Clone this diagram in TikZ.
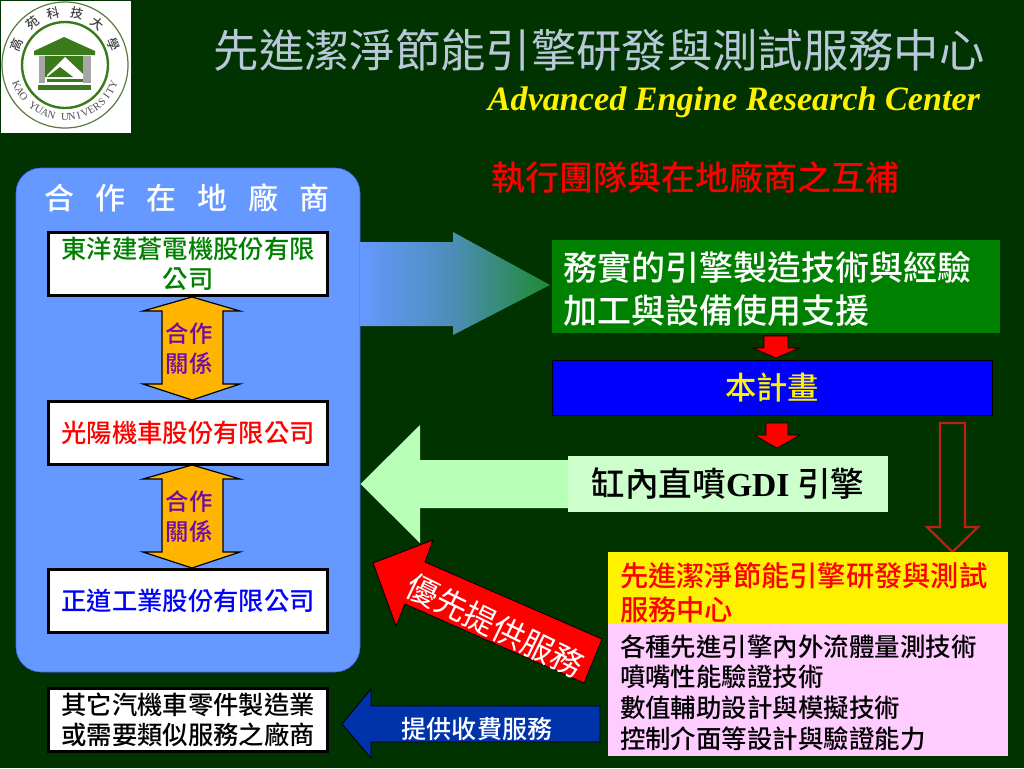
\documentclass[tikz,border=0pt]{standalone}
\usepackage{fontspec}
\setmainfont{Liberation Serif}
\newfontfamily\cjk[UprightFont={* Medium},BoldFont={* Medium}]{Noto Sans CJK TC}
\newfontfamily\cjkthin{Noto Sans CJK TC}
\definecolor{bg}{HTML}{003300}
\definecolor{panel}{HTML}{6699FF}
\definecolor{logog}{HTML}{3A7A1A}
\definecolor{silver}{HTML}{B8C8D8}
\newcommand\fsz[2]{\fontsize{#1}{#2}\selectfont}
\tikzset{
  tx/.style={inner sep=0pt,outer sep=0pt,align=center},
  txl/.style={inner sep=0pt,outer sep=0pt,align=left,anchor=west},
  whitebox/.style={draw=black,fill=white,line width=2.25pt,minimum width=209.25pt,minimum height=47.25pt,inner sep=0pt,align=center,font=\cjk\fsz{19}{22.5}},
  flat/.style={inner sep=0pt,outer sep=0pt},
  redsmall/.style={fill=red,draw=black,line width=0.5pt,line join=miter},
  lg/.style={fill=logog,draw=none}
}
\begin{document}
\begin{tikzpicture}[x=0.75pt,y=-0.75pt]
\useasboundingbox (0,0) rectangle (1024,768);
\fill[bg] (0,0) rectangle (1024,768);
% logo
\fill[white] (1,1) rectangle (131,133);
\draw[color=logog!60!gray,line width=0.9pt] (65,65) circle[radius=63pt*0.75];
\draw[color=logog,line width=1.8pt] (65,65) circle[radius=43pt*0.75];
\fill[lg] (64,37) -- (95,51) -- (95,55) -- (34,55) -- (34,51) -- cycle;
\fill[gray!70] (39,56) rectangle (45,83);
\fill[gray!70] (83,56) rectangle (91,83);
\fill[lg] (45,56) rectangle (83,77);
\fill[white] (65,57) -- (83,74) -- (83,78) -- (47,78) -- (47,75) -- cycle;
\fill[lg] (60,67) -- (73,77) -- (47,77) -- cycle;
\fill[lg] (47,79) rectangle (83,82);
\fill[lg] (38,85) rectangle (91,90);
\foreach \c/\a [count=\i] in {高/-67,苑/-38,科/-13,技/13,大/38,學/67}{
  \node[tx,text=black!75,font=\cjk\fsz{9.5}{10},rotate=-\a] (logot\i) at ({65+53*sin(\a)},{65-53*cos(\a)}) {\c};
}
\foreach \c [count=\i] in {K,A,O,{},Y,U,A,N,{},U,N,I,V,E,R,S,I,T,Y}{
  \pgfmathsetmacro\a{-68+(\i-1)*136/18}
  \node[tx,text=black!70,font=\fsz{8}{9},rotate=\a] (logob\i) at ({65+52*sin(\a)},{65+52*cos(\a)}) {\c};
}
% title
\node[tx,text=silver,font=\cjkthin\fsz{34}{34}] (title) at (599,50) {先進潔淨節能引擎研發與測試服務中心};
\node[tx,text=yellow,font=\bfseries\itshape\fsz{25.6}{26},anchor=east] (subtitle) at (980,102) {Advanced Engine Research Center};
\node[tx,text=red,font=\cjk\fsz{25.5}{25.5}] (heading) at (695,177) {執行團隊與在地廠商之互補};
% left panel
\fill[panel,draw=blue!35!panel,line width=0.5pt] (16,193) arc[start angle=180,end angle=90,radius=25pt*0.75] -- (335,168) arc[start angle=90,end angle=0,radius=25pt*0.75] -- (360,647) arc[start angle=0,end angle=-90,radius=25pt*0.75] -- (41,672) arc[start angle=-90,end angle=-180,radius=25pt*0.75] -- cycle;
\node[tx,text=white,font=\cjk\fsz{22.5}{22.5}] (partners) at (187,198) {合\hspace{15.8pt}作\hspace{15.8pt}在\hspace{15.8pt}地\hspace{15.8pt}廠\hspace{15.8pt}商};
% double arrows
\foreach \t [count=\i] in {297,465}{
  \fill[fill={rgb,255:red,255;green,180;blue,0},draw=black,line width=0.9pt]
   (192,\t) -- (240,\t+14) -- (223,\t+14) -- (223,\t+87) -- (240,\t+87) -- (192,\t+103) -- (143,\t+87) -- (162,\t+87) -- (162,\t+14) -- (143,\t+14) -- cycle;
  \node[tx,text={rgb,255:red,110;green,10;blue,170},font=\cjk\fsz{17.5}{22.5}] (rel\i) at (189,\t+52) {合作\\關係};
}
% white boxes
\node[whitebox,text={rgb,255:red,0;green,128;blue,0}] (box1) at (188,264) {東洋建蒼電機股份有限\\公司};
\node[whitebox,text=red] (box2) at (188,432.5) {光陽機車股份有限公司};
\node[whitebox,text=blue] (box3) at (188,600.5) {正道工業股份有限公司};
\node[whitebox,text=black] (box4) at (188,720) {其它汽機車零件製造業\\或需要類似服務之廠商};
% gradient arrow
\shade[shading angle=90,left color=panel,right color={rgb,255:red,30;green,138;blue,50},middle color={rgb,255:red,75;green,141;blue,181}]
 (360,242) -- (453,242) -- (453,232) -- (550,285) -- (453,335) -- (453,326) -- (360,326) -- cycle;
% right column
\node[flat,fill={rgb,255:red,0;green,128;blue,0},minimum width=336pt,minimum height=69.75pt] (exp) at (776,286.5) {};
\node[txl,text=white,font=\cjk\fsz{25.5}{32.25}] (exptext) at ([xshift=8.25pt,yshift=-1.5pt]exp.west) {務實的引擎製造技術與經驗\\加工與設備使用支援};
\node[flat,draw=black,line width=0.75pt,fill=blue,text=yellow,minimum width=330pt,minimum height=41.25pt,font=\cjk\fsz{23.5}{23.5}] (plan) at (772,387.5) {\raisebox{-1.5pt}{本計畫}};
\fill[redsmall] (764,336) -- (788,336) -- (788,348) -- (799,348) -- (776,358) -- (753,348) -- (764,348) -- cycle;
\fill[redsmall] (766,423) -- (788,423) -- (788,435) -- (800,435) -- (777,448) -- (754,435) -- (766,435) -- cycle;
% pale arrow and GDI box
\fill[fill={rgb,255:red,184;green,255;blue,184},draw=none] (568,460) -- (420,460) -- (420,425) -- (360.5,484) -- (420,543) -- (420,508) -- (568,508) -- cycle;
\node[flat,fill={rgb,255:red,204;green,255;blue,204},text=black,minimum width=240pt,minimum height=42pt,font=\cjk\fsz{25.2}{25.2}] (gdi) at (728,484) {缸內直噴{\rmfamily\bfseries GDI} 引擎};
% outline arrow
\draw[color={rgb,255:red,192;green,32;blue,16},line width=1.7pt,line join=miter] (940,423) -- (965,423) -- (965,527) -- (978,527) -- (952.5,552) -- (927,527) -- (940,527) -- cycle;
% service centre
\node[flat,fill=yellow,minimum width=300pt,minimum height=54pt,anchor=north west] (center) at (608,552) {};
\node[txl,text=red,font=\cjk\fsz{21.2}{25.5}] (centertext) at ([xshift=9pt,yshift=-3.3pt]center.west) {先進潔淨節能引擎研發與測試\\服務中心};
\node[flat,fill={rgb,255:red,255;green,204;blue,255},minimum width=300pt,minimum height=99pt,anchor=north west] (tech) at (608,624) {};
\node[txl,text=black,font=\cjk\fsz{19.1}{23}] (techtext) at ([xshift=9pt,yshift=-1.7pt]tech.west) {各種先進引擎內外流體量測技術\\噴嘴性能驗證技術\\數值輔助設計與模擬技術\\控制介面等設計與驗證能力};
% red diagonal arrow
\fill[fill=red,draw=black,line width=0.6pt] (373,563) -- (433,540) -- (425,562) -- (602,639) -- (584,683) -- (405,604) -- (396,626) -- cycle;
\node[tx,text=white,font=\cjkthin\fsz{24}{24},rotate=-26] (prio) at (495,626) {優先提供服務};
% blue arrow
\fill[fill={rgb,255:red,0;green,51;blue,170},draw=black,line width=0.6pt] (600,706) -- (371,706) -- (371,689) -- (342,724) -- (371,758) -- (371,742) -- (600,742) -- cycle;
\node[tx,text=white,font=\cjk\fsz{18.8}{18.8}] (paid) at (477,729) {提供收費服務};
\end{tikzpicture}
\end{document}
